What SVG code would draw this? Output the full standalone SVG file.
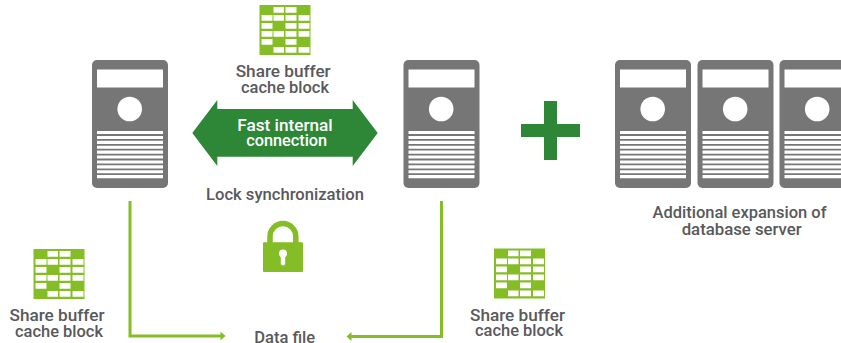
<svg xmlns="http://www.w3.org/2000/svg" width="841" height="343" viewBox="0 0 841 343">
<style>
text{font-family:"Roboto","Liberation Sans",sans-serif;font-weight:500;font-size:17px;fill:#58595b;text-anchor:middle}
.w{fill:#fff}
.c{fill:none;stroke:#84bd26;stroke-width:3}
.a{fill:#84bd26}
</style>
<defs>
<g id="server">
<rect x="0" y="0" width="76" height="128" rx="5" fill="#767676"/>
<rect class="w" x="5" y="9.500" width="66" height="18"/>
<circle class="w" cx="37.700" cy="49" r="12.300"/>
<path class="w" d="M5 71h66v3.100H5zM5 75.900h66v3.100H5zM5 80.800h66v3.100H5zM5 85.700h66v3.100H5zM5 90.600h66v3.100H5zM5 95.500h66v3.100H5zM5 100.400h66v3.100H5zM5 105.300h66v3.100H5zM5 110.200h66v3.100H5zM5 115.100h66v3.100H5z"/>
</g>
<g id="block">
<rect x="0" y="0" width="51" height="50" fill="#84bd26"/>
<path class="w" d="M14 2h10.500v5.700H14zM26 2h11v5.700H26zM2 10h11v5.700H2zM14 10h10.500v5.700H14zM26 10h11v5.700H26zM39 10h11v5.700H39zM2 18h11v5.700H2zM26 18h11v5.700H26zM39 18h11v5.700H39zM2 26h11v5.700H2zM14 26h10.500v5.700H14zM26 26h11v5.700H26zM39 26h11v5.700H39zM2 34h11v5.700H2zM26 34h11v5.700H26zM14 42h10.500v5.700H14zM26 42h11v5.700H26zM39 42h11v5.700H39z"/>
</g>
</defs>
<g id="connectors">
<path class="c" d="M130 201V336H221"/>
<path class="a" d="M225.500 336l-5-4.500v9z"/>
<path class="c" d="M441.500 201V336.500H351"/>
<path class="a" d="M346.500 336.500l5-4.500v9z"/>
</g>
<g id="server-1"><use href="#server" x="92" y="60"/></g>
<g id="server-2"><use href="#server" x="403.500" y="60"/></g>
<g id="server-3"><use href="#server" x="615" y="60"/></g>
<g id="server-4"><use href="#server" x="697.500" y="60"/></g>
<g id="server-5"><use href="#server" x="779.500" y="60"/></g>
<g id="plus"><path fill="#2e8637" d="M544 101h13v23h23v13h-23v23h-13v-23h-23v-13h23z"/></g>
<g id="link">
<path fill="#2e8637" d="M192.300 133L217.300 100V109H352.700V100L377.700 133L352.700 166V156.700H217.300V166Z"/>
<text x="285" y="131" textLength="95.400" lengthAdjust="spacingAndGlyphs" style="fill:#fff">Fast internal</text>
<text x="286.700" y="145.700" textLength="81" lengthAdjust="spacingAndGlyphs" style="fill:#fff">connection</text>
</g>
<g id="block-top"><use href="#block" x="259.500" y="5"/>
<text x="283.200" y="77" textLength="95" lengthAdjust="spacingAndGlyphs">Share buffer</text><text x="285" y="92.700" textLength="88" lengthAdjust="spacingAndGlyphs">cache block</text></g>
<g id="block-left"><use href="#block" x="33.500" y="249"/>
<text x="57" y="321" textLength="95" lengthAdjust="spacingAndGlyphs">Share buffer</text><text x="59" y="336.700" textLength="88" lengthAdjust="spacingAndGlyphs">cache block</text></g>
<g id="block-right"><use href="#block" x="494" y="248.500"/>
<text x="517.500" y="320.700" textLength="95" lengthAdjust="spacingAndGlyphs">Share buffer</text><text x="519" y="336.300" textLength="88" lengthAdjust="spacingAndGlyphs">cache block</text></g>
<g id="lock-label"><text x="285" y="200" textLength="158" lengthAdjust="spacingAndGlyphs">Lock synchronization</text></g>
<g id="lock">
<path fill="none" stroke="#84bd26" stroke-width="5.500" d="M270 243V236.500A12.900 12.900 0 0 1 295.800 236.500V243"/>
<rect class="a" x="263" y="242.300" width="40" height="29.700" rx="1"/>
<circle class="w" cx="283" cy="253.500" r="4"/>
<rect class="w" x="280.800" y="253.500" width="4.400" height="12" rx="2.200"/>
</g>
<g id="datafile"><text x="284.700" y="342.500" textLength="61" lengthAdjust="spacingAndGlyphs">Data file</text></g>
<g id="expansion-label"><text x="739.500" y="217.700" textLength="174" lengthAdjust="spacingAndGlyphs">Additional expansion of</text><text x="741.700" y="235" textLength="120" lengthAdjust="spacingAndGlyphs">database server</text></g>
</svg>
